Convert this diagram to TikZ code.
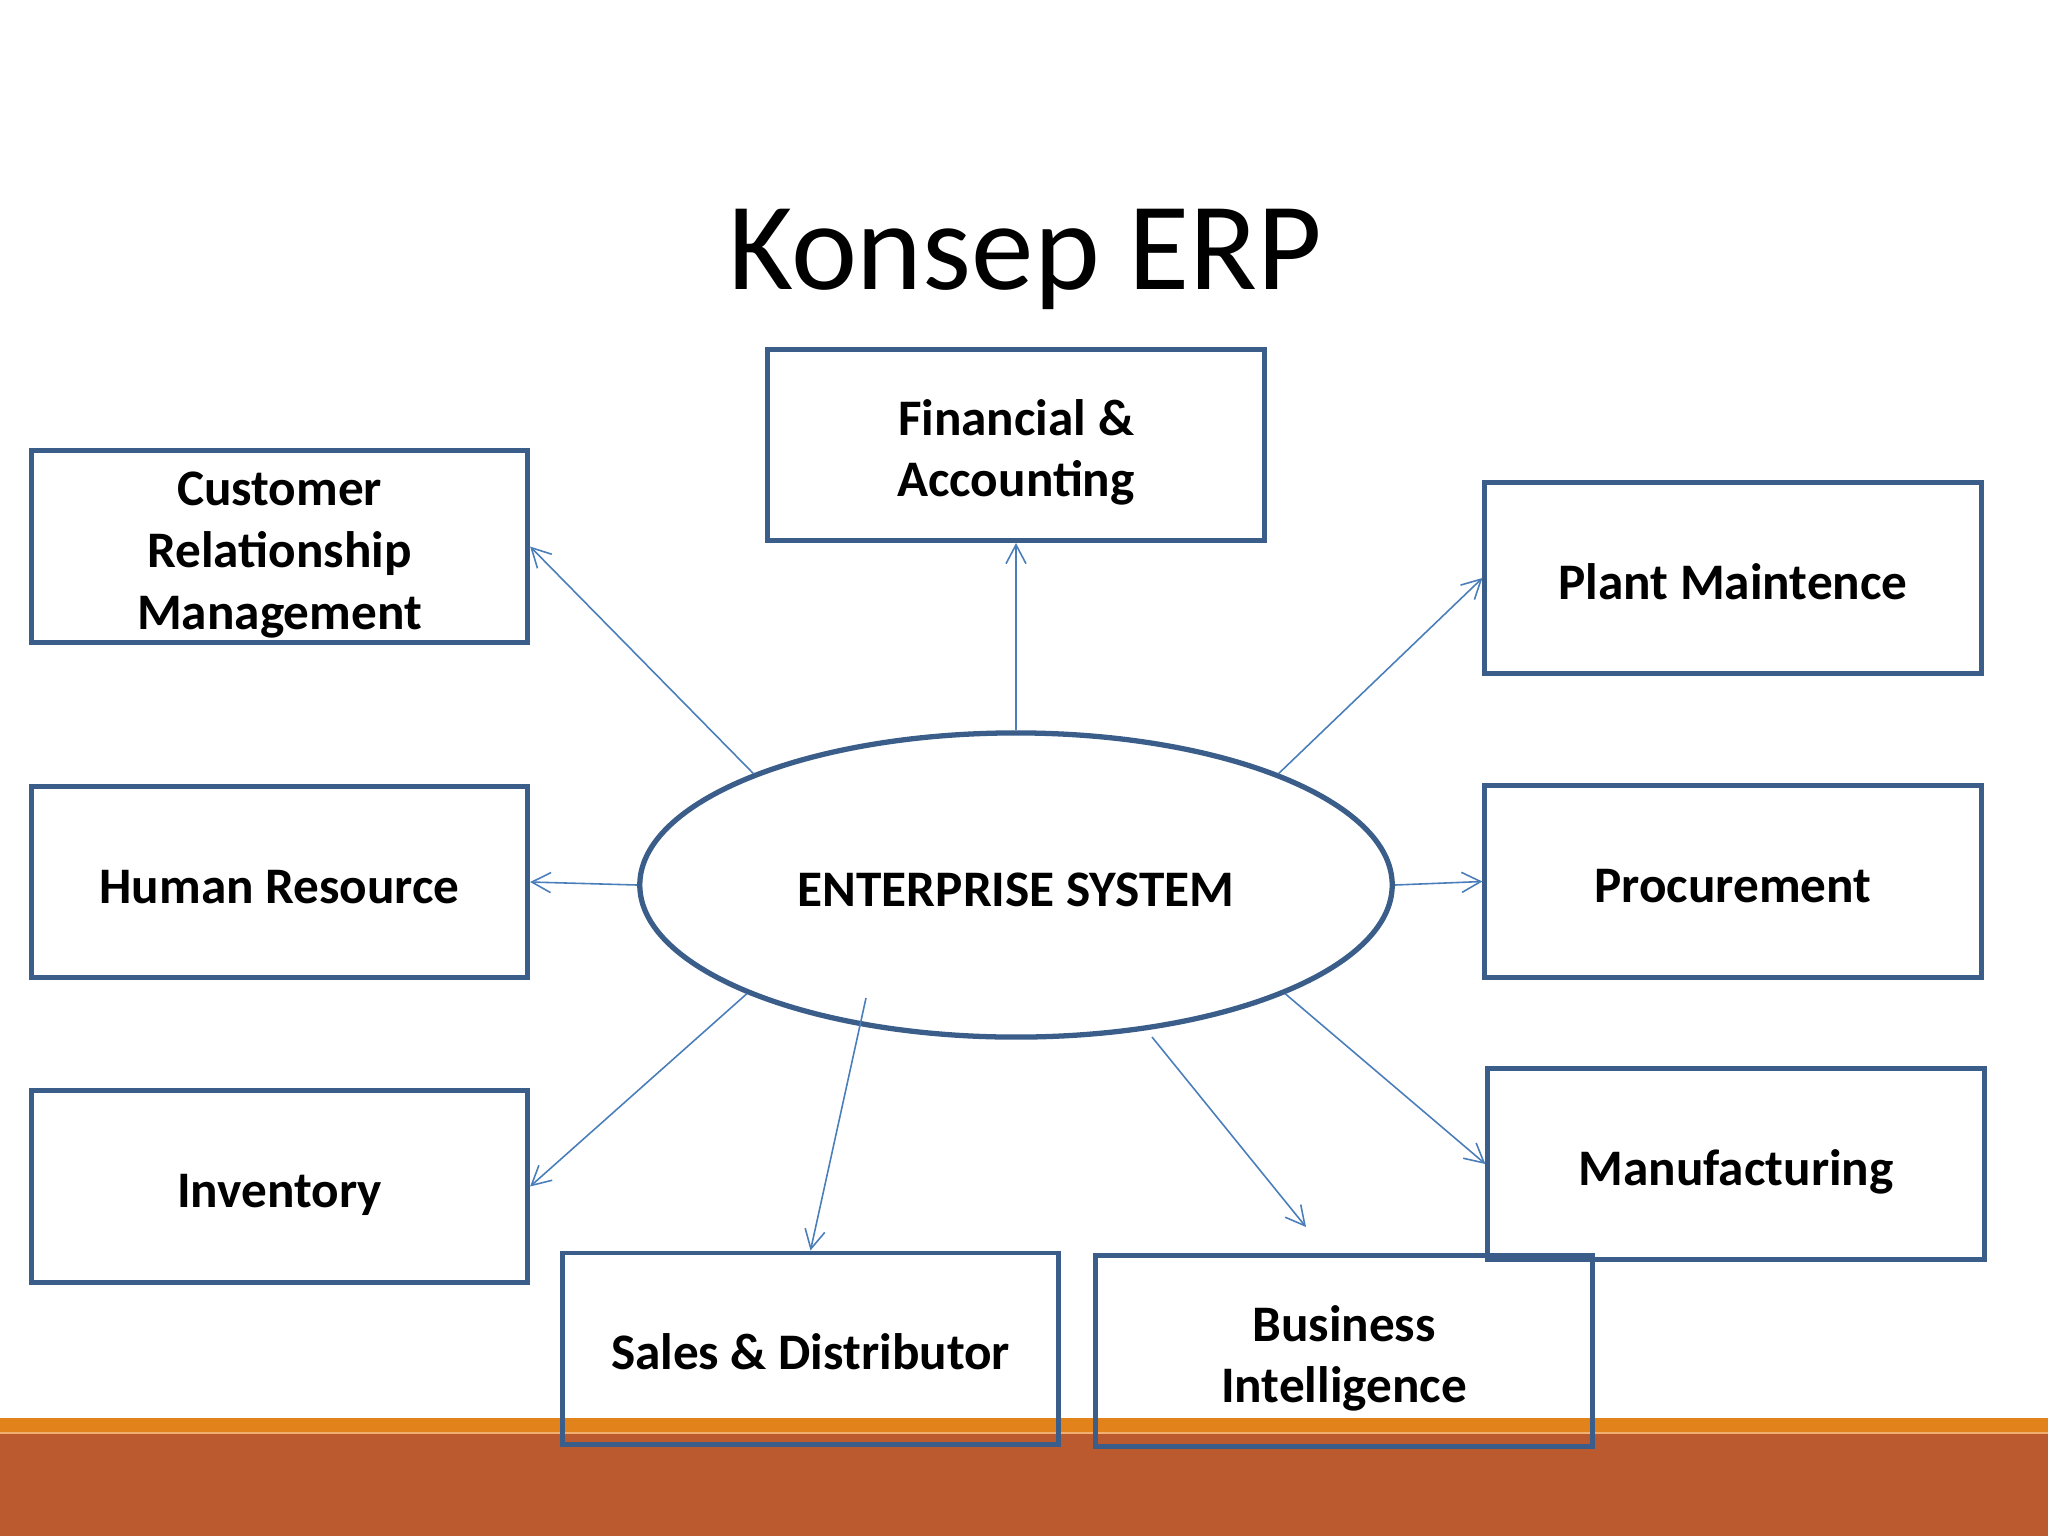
\documentclass[tikz,border=0pt]{standalone}
\usepackage{fontspec}
\setmainfont{Carlito}
\usetikzlibrary{shapes.geometric,arrows.meta}
\definecolor{boxblue}{HTML}{3A5D8A}
\definecolor{arrowblue}{HTML}{4A7EBB}
\definecolor{bandorange}{HTML}{E2821B}
\definecolor{bandrust}{HTML}{BB5A2E}
\definecolor{bandlight}{HTML}{F2B070}
\newsavebox{\txtbox}
\newcommand{\boxtext}[1]{\sbox{\txtbox}{\begin{tabular}{@{}c@{}}#1\end{tabular}}\raisebox{0pt}[\dimexpr\ht\txtbox-\dp\txtbox+4.9pt\relax][0pt]{\usebox{\txtbox}}}
\tikzset{
  modbox/.style={draw=boxblue, line width=1.4pt, minimum width=4.96cm, minimum height=1.91cm,
    inner sep=0pt, font=\fontsize{14.57}{17.6}\selectfont\bfseries},
  ellnode/.style={ellipse, draw=boxblue, line width=1.5pt, fill=white, minimum width=7.52cm,
    minimum height=3.04cm, inner sep=0pt, font=\fontsize{14.57}{17.6}\selectfont\bfseries},
  conn/.style={draw=arrowblue, line width=0.45pt, -{Straight Barb[length=5.4pt,width=5.7pt]}},
  titletext/.style={font=\fontsize{35.6}{42}\selectfont, anchor=base, inner sep=0pt}
}
\begin{document}
\begin{tikzpicture}[x=0.01cm, y=-0.01cm]
\useasboundingbox (0,0) rectangle (2048,1536);
% bottom band
\fill[bandorange] (0,1418) rectangle (2048,1433);
\fill[bandrust] (0,1433) rectangle (2048,1536);
\draw[bandlight, line width=0.4pt] (0,1433) -- (2048,1433);
% title
\node[titletext] (title) at (1025,289) {Konsep ERP};
% central ellipse
\node[ellnode] (ell) at (1016,885) {\boxtext{ENTERPRISE SYSTEM}};
% boxes
\node[modbox] (fin) at (1016,445) {\boxtext{Financial \&\\Accounting}};
\node[modbox] (crm) at (279.5,546.5) {\boxtext{Customer\\Relationship\\Management}};
\node[modbox] (plant) at (1733,578) {\boxtext{Plant Maintence}};
\node[modbox] (hr) at (279.5,882) {\boxtext{Human Resource}};
\node[modbox] (proc) at (1733,881.5) {\boxtext{Procurement}};
\node[modbox] (inv) at (279.5,1186.5) {\boxtext{Inventory}};
\node[modbox] (manu) at (1736,1164) {\boxtext{Manufacturing}};
\node[modbox] (sales) at (810.5,1348.5) {\boxtext{Sales \& Distributor}};
\node[modbox] (bi) at (1344,1351) {\boxtext{Business\\Intelligence}};
% free coordinates
\coordinate (salesstart) at (866,998);
\coordinate (bistart) at (1152,1037);
\coordinate (biend) at (1306,1227);
% connectors
\draw[conn] (ell.north) -- (fin.south);
\draw[conn] (ell.157) -- (crm.east);
\draw[conn] (ell.23) -- (plant.west);
\draw[conn] (ell.west) -- (hr.east);
\draw[conn] (ell.east) -- (proc.west);
\draw[conn] (ell.202) -- (inv.east);
\draw[conn] (salesstart) -- (sales.north);
\draw[conn] (bistart) -- (biend);
\draw[conn] (ell.338) -- (manu.west);
\end{tikzpicture}
\end{document}
